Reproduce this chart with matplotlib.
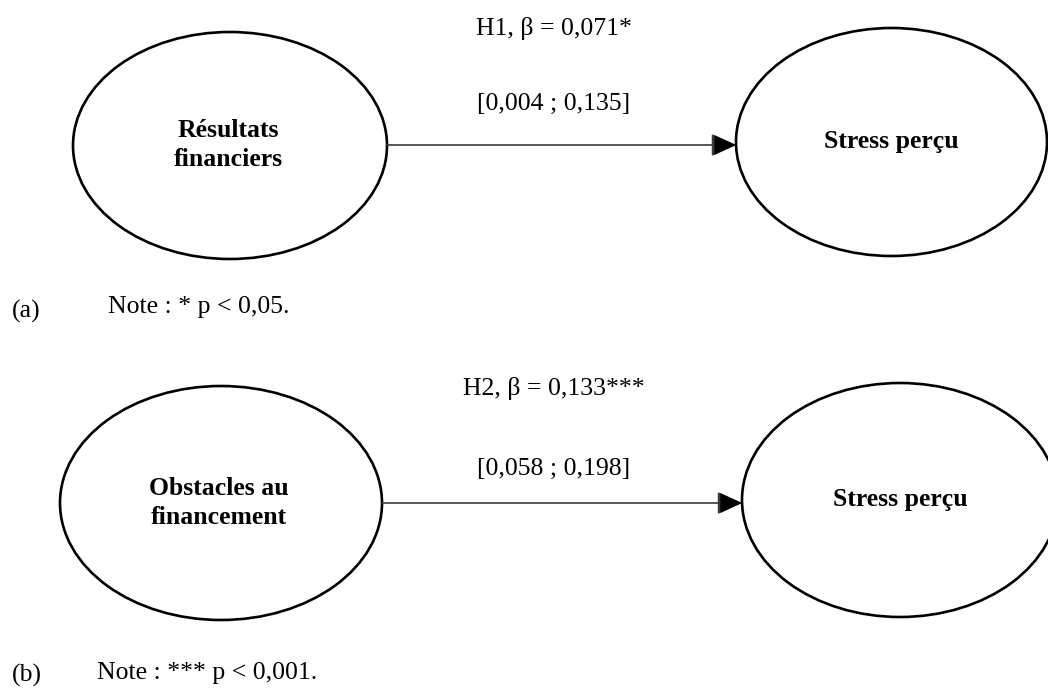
import matplotlib

matplotlib.use("Agg")

import matplotlib.pyplot as plt  # noqa: E402
from matplotlib.patches import Ellipse, FancyArrowPatch  # noqa: E402

# --- data: two single-path models ---------------------------------------
panel_ids = ["(a)", "(b)"]
predictors = ["Résultats\nfinanciers", "Obstacles au\nfinancement"]
outcomes = ["Stress perçu", "Stress perçu"]
hypotheses = ["H1", "H2"]
betas = ["0,071", "0,133"]
stars = ["*", "***"]
ci_low = ["0,004", "0,058"]
ci_high = ["0,135", "0,198"]
notes = ["Note : * p < 0,05.", "Note : *** p < 0,001."]

# --- layout (pixel coordinates, y grows downward) ------------------------
W, H = 1048, 688
layout = [
    dict(left=(230, 145.5, 314, 227), right=(891.5, 142, 311, 228),
         arrow=(387, 736, 145), head_y=35, ci_y=110,
         pred_y=(137, 166), out_y=148, label_x=554,
         panel=(12, 318), note=(108, 313)),
    dict(left=(221, 503, 322, 234), right=(900, 500, 316, 234),
         arrow=(382, 742, 503), head_y=395, ci_y=475,
         pred_y=(495, 524), out_y=506, label_x=554,
         panel=(12, 682), note=(97, 679)),
]

FONT = ["Liberation Serif", "DejaVu Serif"]
FS = 18.5

fig = plt.figure(figsize=(W / 100, H / 100), dpi=100)
ax = fig.add_axes([0, 0, 1, 1])
ax.set_xlim(0, W)
ax.set_ylim(H, 0)
ax.axis("off")

for i, lay in enumerate(layout):
    for cx, cy, ew, eh in (lay["left"], lay["right"]):
        ax.add_patch(Ellipse((cx, cy), ew, eh, fill=False,
                             edgecolor="black", linewidth=1.9))

    x0, x1, ay = lay["arrow"]
    ax.add_patch(FancyArrowPatch((x0, ay), (x1, ay),
                                 arrowstyle="-|>,head_length=1.1,head_width=0.5",
                                 mutation_scale=14, color="#3a3a3a",
                                 linewidth=1.2, shrinkA=0, shrinkB=0))
    # the head itself is pure black in the source
    ax.add_patch(FancyArrowPatch((x1 - 16, ay), (x1, ay),
                                 arrowstyle="-|>,head_length=1.1,head_width=0.5",
                                 mutation_scale=14, color="black",
                                 linewidth=0.1, shrinkA=0, shrinkB=0))

    lx = lay["label_x"]
    ax.text(lx, lay["head_y"], f"{hypotheses[i]}, β = {betas[i]}{stars[i]}",
            ha="center", va="baseline", fontsize=FS, family=FONT)
    ax.text(lx, lay["ci_y"], f"[{ci_low[i]} ; {ci_high[i]}]",
            ha="center", va="baseline", fontsize=FS, family=FONT)

    for line, yb in zip(predictors[i].split("\n"), lay["pred_y"]):
        ax.text(lay["left"][0] - 2, yb, line, ha="center", va="baseline",
                fontsize=FS, fontweight="bold", family=FONT)
    ax.text(lay["right"][0], lay["out_y"], outcomes[i], ha="center",
            va="baseline", fontsize=FS, fontweight="bold", family=FONT)

    px, py = lay["panel"]
    ax.text(px, py, panel_ids[i], ha="left", va="baseline",
            fontsize=FS, family=FONT)
    nx, ny = lay["note"]
    ax.text(nx, ny, notes[i], ha="left", va="baseline",
            fontsize=FS, family=FONT)

fig.savefig("out.png", dpi=100, facecolor="white")
